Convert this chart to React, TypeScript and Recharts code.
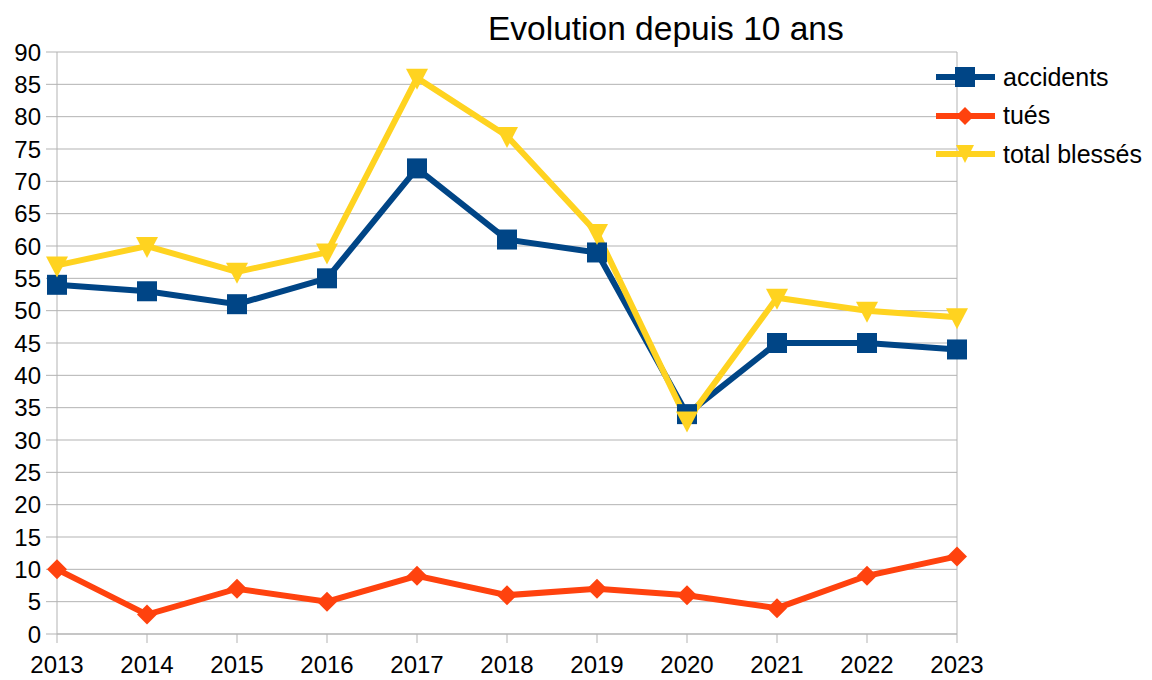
import React from 'react'
import { LineChart, Line, XAxis, YAxis, CartesianGrid, ReferenceLine } from 'recharts'

const years = ['2013', '2014', '2015', '2016', '2017', '2018', '2019', '2020', '2021', '2022', '2023']
const accidents = [54, 53, 51, 55, 72, 61, 59, 34, 45, 45, 44]
const tues = [10, 3, 7, 5, 9, 6, 7, 6, 4, 9, 12]
const blesses = [57, 60, 56, 59, 86, 77, 62, 33, 52, 50, 49]
const yTicks = [0, 5, 10, 15, 20, 25, 30, 35, 40, 45, 50, 55, 60, 65, 70, 75, 80, 85, 90]

const BLUE = '#004586'
const RED = '#ff420e'
const YELLOW = '#ffd320'
const GRID = '#b3b3b3'
const FONT = '"Liberation Sans", Arial, sans-serif'

const data = years.map((y, i) => ({ year: y, accidents: accidents[i], tues: tues[i], blesses: blesses[i] }))

const Square = (p: any) => (
    <rect key={`s-${p.index}`} x={p.cx - 10} y={p.cy - 10} width={20} height={20} fill={BLUE} />
)
const Diamond = (p: any) => (
    <polygon key={`d-${p.index}`} points={`${p.cx},${p.cy - 10} ${p.cx + 10},${p.cy} ${p.cx},${p.cy + 10} ${p.cx - 10},${p.cy}`} fill={RED} />
)
const TriDown = (p: any) => (
    <polygon key={`t-${p.index}`} points={`${p.cx - 11},${p.cy - 9} ${p.cx + 11},${p.cy - 9} ${p.cx},${p.cy + 12}`} fill={YELLOW} />
)

const legendItems = [
    { label: 'accidents', color: BLUE, shape: 'square' },
    { label: 'tués', color: RED, shape: 'diamond' },
    { label: 'total blessés', color: YELLOW, shape: 'tri' },
]

function LegendBox() {
    return (
        <div style={{ position: 'absolute', left: 936, top: 58, fontFamily: FONT, fontSize: 25, color: '#000' }}>
            {legendItems.map(it => (
                <div key={it.label} style={{ display: 'flex', alignItems: 'center', height: 38.5, whiteSpace: 'nowrap' }}>
                    <svg width={67} height={24}>
                        <line x1={0} y1={12} x2={59} y2={12} stroke={it.color} strokeWidth={6} />
                        {it.shape === 'square' && <rect x={19} y={2} width={20} height={20} fill={it.color} />}
                        {it.shape === 'diamond' && <polygon points="29,3 38,12 29,21 20,12" fill={it.color} />}
                        {it.shape === 'tri' && <polygon points="20,3 38,3 29,21" fill={it.color} />}
                    </svg>
                    <span>{it.label}</span>
                </div>
            ))}
        </div>
    )
}

export default function App() {
    return (
        <div style={{ position: 'absolute', left: 0, top: 0, width: 1152, height: 680, background: '#fff' }}>
            <div style={{ position: 'absolute', left: 488, top: 10, fontFamily: FONT, fontSize: 33.5, color: '#000', whiteSpace: 'nowrap' }}>
                Evolution depuis 10 ans
            </div>
            <LineChart width={1152} height={680} data={data} margin={{ top: 52, right: 195, bottom: 0, left: 0 }}>
                <CartesianGrid vertical={false} stroke={GRID} strokeWidth={1} />
                <XAxis
                    dataKey="year"
                    height={46}
                    stroke={GRID}
                    tickSize={9}
                    tickMargin={13}
                    tick={{ fontSize: 24, fill: '#000', fontFamily: FONT }}
                    interval={0}
                />
                <YAxis
                    domain={[0, 90]}
                    ticks={yTicks}
                    width={57}
                    stroke={GRID}
                    tickSize={11}
                    tickMargin={5}
                    tick={{ fontSize: 24, fill: '#000', fontFamily: FONT }}
                    interval={0}
                />
                <ReferenceLine x="2023" stroke={GRID} />
                <Line dataKey="accidents" stroke={BLUE} strokeWidth={6} dot={Square} activeDot={false} isAnimationActive={false} />
                <Line dataKey="tues" stroke={RED} strokeWidth={6} dot={Diamond} activeDot={false} isAnimationActive={false} />
                <Line dataKey="blesses" stroke={YELLOW} strokeWidth={6} dot={TriDown} activeDot={false} isAnimationActive={false} />
            </LineChart>
            <LegendBox />
        </div>
    )
}
